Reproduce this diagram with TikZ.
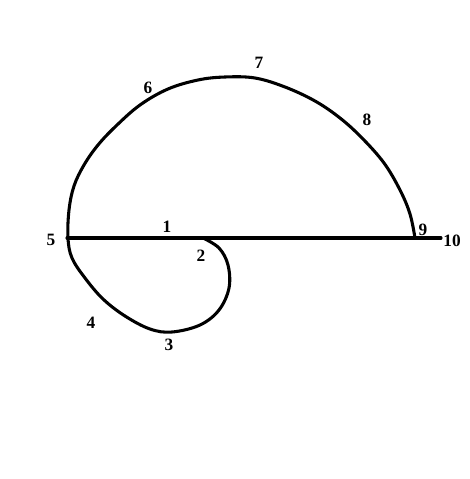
\documentclass[tikz,border=0pt]{standalone}
\usepackage{fontspec}
\setmainfont{Liberation Serif}
\usepackage{tikz}

\begin{document}
\begin{tikzpicture}[x=0.75pt,y=-0.75pt,
  curve/.style={line width=2.3pt, line join=round, line cap=round},
  num/.style={font=\fontsize{13}{15}\selectfont\bfseries, inner sep=0pt}]
 \useasboundingbox[fill=white] (0,0) rectangle (469,479);
 % axis
 \draw[curve] (67,238) -- (441,238);
 % spiral
 \draw[curve] plot[smooth, tension=0.6] coordinates {(203,238) (219,248) (228,265) (229,288) (219,310) (200,325) (172,332) (150,329) (125,316) (103,299) (85,278) (72,258) (68,238) (69,210) (74,186) (84,165) (98,145) (116,126) (140,105) (168,89) (198,80) (225,77) (255,78) (285,87) (315,101) (340,118) (362,138) (384,163) (400,190) (410,214) (415,238)};
 % labels
 \node[num] (n1) at (167,227) {1};
 \node[num] (n2) at (201,256) {2};
 \node[num] (n3) at (169,345) {3};
 \node[num] (n4) at (91,323) {4};
 \node[num] (n5) at (51,240) {5};
 \node[num] (n6) at (148,88) {6};
 \node[num] (n7) at (259,63) {7};
 \node[num] (n8) at (367,120) {8};
 \node[num] (n9) at (423,230) {9};
 \node[num] (n10) at (452,241) {10};
\end{tikzpicture}
\end{document}
